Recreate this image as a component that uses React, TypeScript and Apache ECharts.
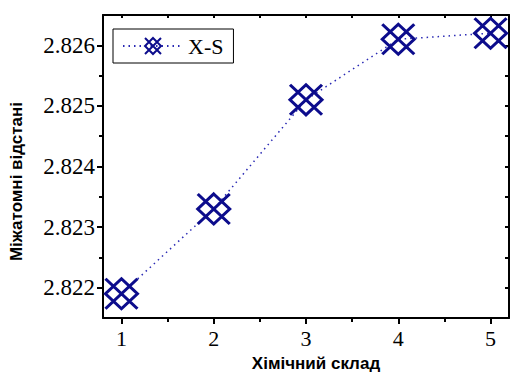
import React, { useEffect, useRef } from "react";
import * as echarts from "echarts";

const xValues = [1, 2, 3, 4, 5];
const yValues = [2.8219, 2.8233, 2.8251, 2.8261, 2.8262];
const xMajorTicks = [1, 2, 3, 4, 5];
const xMinorTicks = [1.5, 2.5, 3.5, 4.5];
const xTopTicks = [1, 1.5, 2, 2.5, 3, 3.5, 4, 4.5, 5];
const yMajorTicks = [2.822, 2.823, 2.824, 2.825, 2.826];
const yMinorTicks = [2.8225, 2.8235, 2.8245, 2.8255];
const yRightTicks = [2.822, 2.8225, 2.823, 2.8235, 2.824, 2.8245, 2.825, 2.8255, 2.826];
const seriesName = "X-S";
const xTitle = "Хімічний склад";
const yTitle = "Міжатомні відстані";

const X_MIN = 0.8;
const X_MAX = 5.2;
const Y_MIN = 2.8215;
const Y_MAX = 2.8265;

const markerPath =
  "path://M0,0L100,100M100,0L0,100M50,0L100,50L50,100L0,50Z";

const serif = "'Liberation Serif'";
const sans = "'Liberation Sans'";

export default function App() {
  const ref = useRef<HTMLDivElement>(null);
  useEffect(() => {
    if (!ref.current) return;
    const chart = echarts.init(ref.current, null, { renderer: "svg" });
    const noLine = { show: false };
    const blackLine = { show: true, lineStyle: { color: "#000", width: 2 } };
    chart.setOption({
      animation: false,
      backgroundColor: "#fff",
      grid: { left: 102, right: 1, top: 15, bottom: 59 },
      legend: {
        left: 113,
        top: 29,
        padding: [6, 10, 6, 9],
        itemWidth: 60,
        itemHeight: 20,
        borderColor: "#000",
        borderWidth: 1,
        backgroundColor: "#fff",
        textStyle: { fontFamily: serif, fontSize: 22, color: "#000" },
        data: [seriesName],
      },
      xAxis: [
        {
          type: "value",
          position: "bottom",
          min: X_MIN,
          max: X_MAX,
          axisLine: blackLine,
          splitLine: { show: false },
          axisTick: {
            show: true,
            customValues: xMajorTicks,
            length: 6,
            inside: false,
            lineStyle: { color: "#000", width: 2 },
          },
          axisLabel: {
            customValues: xMajorTicks,
            margin: 9,
            fontFamily: serif,
            fontSize: 22,
            color: "#000",
          },
          name: xTitle,
          nameLocation: "middle",
          nameGap: 37,
          nameTextStyle: {
            fontFamily: sans,
            fontWeight: "bold",
            fontSize: 17,
            color: "#000",
            padding: [0, 0, 0, 20],
          },
        },
        {
          type: "value",
          position: "bottom",
          min: X_MIN,
          max: X_MAX,
          axisLine: noLine,
          splitLine: { show: false },
          axisTick: {
            show: true,
            customValues: xMinorTicks,
            length: 4,
            inside: false,
            lineStyle: { color: "#000", width: 2 },
          },
          axisLabel: { show: false },
        },
        {
          type: "value",
          position: "top",
          min: X_MIN,
          max: X_MAX,
          axisLine: blackLine,
          splitLine: { show: false },
          axisTick: {
            show: true,
            customValues: xTopTicks,
            length: 3,
            inside: true,
            lineStyle: { color: "#000", width: 2 },
          },
          axisLabel: { show: false },
        },
      ],
      yAxis: [
        {
          type: "value",
          position: "left",
          min: Y_MIN,
          max: Y_MAX,
          axisLine: blackLine,
          splitLine: { show: false },
          axisTick: {
            show: true,
            customValues: yMajorTicks,
            length: 6,
            inside: false,
            lineStyle: { color: "#000", width: 2 },
          },
          axisLabel: {
            customValues: yMajorTicks,
            margin: 8,
            fontFamily: serif,
            fontSize: 23,
            color: "#000",
            formatter: (v: number) => v.toFixed(3),
          },
          name: yTitle,
          nameLocation: "middle",
          nameGap: 78,
          nameTextStyle: {
            fontFamily: sans,
            fontWeight: "bold",
            fontSize: 17,
            color: "#000",
            padding: [0, 30, 0, 0],
          },
        },
        {
          type: "value",
          position: "left",
          min: Y_MIN,
          max: Y_MAX,
          axisLine: noLine,
          splitLine: { show: false },
          axisTick: {
            show: true,
            customValues: yMinorTicks,
            length: 4,
            inside: false,
            lineStyle: { color: "#000", width: 2 },
          },
          axisLabel: { show: false },
        },
        {
          type: "value",
          position: "right",
          min: Y_MIN,
          max: Y_MAX,
          axisLine: blackLine,
          splitLine: { show: false },
          axisTick: {
            show: true,
            customValues: yRightTicks,
            length: 4,
            inside: true,
            lineStyle: { color: "#000", width: 2 },
          },
          axisLabel: { show: false },
        },
      ],
      series: [
        {
          name: seriesName,
          type: "line",
          xAxisIndex: 0,
          yAxisIndex: 0,
          data: xValues.map((x, i) => [x, yValues[i]]),
          symbol: markerPath,
          symbolSize: [32, 30],
          showAllSymbol: true,
          clip: false,
          lineStyle: { color: "#2a2ab4", width: 1.5, type: [1.5, 4] },
          itemStyle: {
            color: "rgba(0,0,0,0)",
            borderColor: "#0c0c8c",
            borderWidth: 3,
          },
          z: 5,
        },
      ],
    });
    return () => chart.dispose();
  }, []);
  return (
    <div
      ref={ref}
      style={{ position: "fixed", left: 0, top: 0, width: 510, height: 377 }}
    />
  );
}
